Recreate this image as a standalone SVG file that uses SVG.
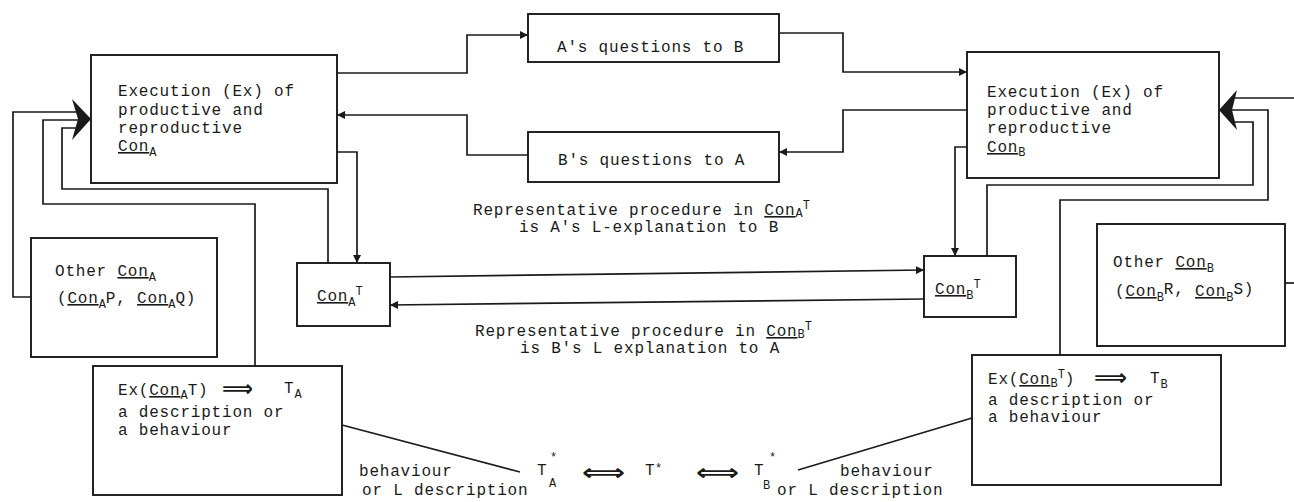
<svg xmlns="http://www.w3.org/2000/svg" width="1294" height="502" viewBox="0 0 1294 502">
<style>
.box{fill:none;stroke:#1a1a1a;stroke-width:1.9}
.ln{fill:none;stroke:#1a1a1a;stroke-width:1.7}
text{font-family:"Liberation Mono","DejaVu Sans Mono",monospace;font-size:16px;fill:#1a1a1a;letter-spacing:0.8px}
.u{text-decoration:underline}
.s{font-size:12px;letter-spacing:0}
.sym{font-family:"DejaVu Sans",sans-serif;font-weight:bold;letter-spacing:0;font-size:22px}
</style>
<defs>
<marker id="ah" viewBox="0 0 10 10" refX="10" refY="5" markerWidth="8" markerHeight="8" markerUnits="userSpaceOnUse" orient="auto">
<path d="M0,0 L10,5 L0,10 Z" fill="#1a1a1a"/>
</marker>
</defs>
<rect width="1294" height="502" fill="#ffffff"/>

<g id="connectors">
<path class="ln" d="M337,73 H467 V35 H528" marker-end="url(#ah)"/>
<path class="ln" d="M779,33 H843 V72 H967" marker-end="url(#ah)"/>
<path class="ln" d="M967,110 H843 V152 H779" marker-end="url(#ah)"/>
<path class="ln" d="M527,155 H467 V115 H337" marker-end="url(#ah)"/>
<path class="ln" d="M337,152 H357 V263" marker-end="url(#ah)"/>
<path class="ln" d="M328,263 V189 H62 V128 H78"/>
<path class="ln" d="M255,366 V204 H43 V120 H78"/>
<path class="ln" d="M31,297 H13 V112 H78"/>
<polygon points="91,119 72,99 78,119 72,140" fill="#1a1a1a"/>
<path class="ln" d="M390,277 L924,270" marker-end="url(#ah)"/>
<path class="ln" d="M924,299 L390,305" marker-end="url(#ah)"/>
<path class="ln" d="M967,147 H955 V256" marker-end="url(#ah)"/>
<path class="ln" d="M987,256 V185 H1253 V122 H1232"/>
<path class="ln" d="M1060,355 V200 H1268 V110 H1232"/>
<path class="ln" d="M1294,98 H1232"/>
<polygon points="1219,110 1237,90 1232,110 1237,130" fill="#1a1a1a"/>
<path class="ln" d="M1285,283 H1294"/>
<path class="ln" d="M342,425 L520,472"/>
<path class="ln" d="M798,470 L972,418"/>
</g>

<g id="execA">
<rect class="box" x="91" y="55" width="246" height="128"/>
<text x="118" y="96">Execution (Ex) of</text>
<text x="118" y="115">productive and</text>
<text x="118" y="133">reproductive</text>
<text x="118" y="151"><tspan class="u">Con</tspan><tspan class="s" dy="5">A</tspan></text>
</g>

<g id="execB">
<rect class="box" x="967" y="52" width="252" height="126"/>
<text x="987" y="97">Execution (Ex) of</text>
<text x="987" y="115">productive and</text>
<text x="987" y="133">reproductive</text>
<text x="987" y="152"><tspan class="u">Con</tspan><tspan class="s" dy="4">B</tspan></text>
</g>

<g id="qAB">
<rect class="box" x="528" y="14" width="251" height="48"/>
<text x="557" y="52">A's questions to B</text>
</g>

<g id="qBA">
<rect class="box" x="528" y="132" width="251" height="50"/>
<text x="558" y="165">B's questions to A</text>
</g>

<g id="labelA">
<text x="473" y="215">Representative procedure in <tspan class="u">Con</tspan><tspan class="s" dy="2">A</tspan><tspan class="s" dy="-8">T</tspan></text>
<text x="519" y="232">is A's L-explanation to B</text>
</g>

<g id="labelB">
<text x="475" y="336">Representative procedure in <tspan class="u">Con</tspan><tspan class="s" dy="2">B</tspan><tspan class="s" dy="-8">T</tspan></text>
<text x="520" y="353">is B's L explanation to A</text>
</g>

<g id="conAT">
<rect class="box" x="297" y="263" width="93" height="63"/>
<text x="317" y="301"><tspan class="u">Con</tspan><tspan class="s" dy="5">A</tspan><tspan class="s" dy="-11">T</tspan></text>
</g>

<g id="conBT">
<rect class="box" x="924" y="256" width="92" height="61"/>
<text x="935" y="294"><tspan class="u">Con</tspan><tspan class="s" dy="5">B</tspan><tspan class="s" dy="-11">T</tspan></text>
</g>

<g id="otherA">
<rect class="box" x="31" y="238" width="186" height="119"/>
<text x="55" y="276">Other <tspan class="u">Con</tspan><tspan class="s" dy="5">A</tspan></text>
<text x="57" y="303">(<tspan class="u">Con</tspan><tspan class="s" dy="5">A</tspan><tspan dy="-5">P, </tspan><tspan class="u">Con</tspan><tspan class="s" dy="5">A</tspan><tspan dy="-5">Q)</tspan></text>
</g>

<g id="otherB">
<rect class="box" x="1097" y="224" width="188" height="122"/>
<text x="1113" y="267">Other <tspan class="u">Con</tspan><tspan class="s" dy="5">B</tspan></text>
<text x="1115" y="296">(<tspan class="u">Con</tspan><tspan class="s" dy="5">B</tspan><tspan dy="-7">R, </tspan><tspan class="u" dy="2">Con</tspan><tspan class="s" dy="5">B</tspan><tspan dy="-7">S)</tspan></text>
</g>

<g id="exA">
<rect class="box" x="93" y="366" width="249" height="129"/>
<text x="118" y="395">Ex(<tspan class="u">Con</tspan><tspan class="s" dy="4">A</tspan><tspan dy="-4">T)</tspan></text>
<text class="sym" x="222" y="396" textLength="31" lengthAdjust="spacingAndGlyphs">⟹</text>
<text x="284" y="393">T<tspan class="s" dy="5">A</tspan></text>
<text x="118" y="417">a description or</text>
<text x="118" y="435">a behaviour</text>
</g>

<g id="exB">
<rect class="box" x="972" y="355" width="249" height="130"/>
<text x="988" y="384">Ex(<tspan class="u">Con</tspan><tspan class="s" dy="3">B</tspan><tspan class="s" dy="-9">T</tspan><tspan dy="6">)</tspan></text>
<text class="sym" x="1094" y="385" textLength="33" lengthAdjust="spacingAndGlyphs">⟹</text>
<text x="1150" y="383">T<tspan class="s" dy="5">B</tspan></text>
<text x="988" y="405">a description or</text>
<text x="988" y="422">a behaviour</text>
</g>

<g id="tstar">
<text x="359" y="476">behaviour</text>
<text x="362" y="495">or L description</text>
<text x="537" y="475" font-size="13">T</text>
<text class="s" x="550" y="461">*</text>
<text class="s" x="549" y="487">A</text>
<text class="sym" x="582" y="480" textLength="43" lengthAdjust="spacingAndGlyphs">⟺</text>
<text x="645" y="475" font-size="13">T</text>
<text class="s" x="655" y="472">*</text>
<text class="sym" x="696" y="480" textLength="43" lengthAdjust="spacingAndGlyphs">⟺</text>
<text x="754" y="475" font-size="13">T</text>
<text class="s" x="769" y="461">*</text>
<text class="s" x="763" y="489">B</text>
<text x="777" y="495">or L description</text>
<text x="840" y="476">behaviour</text>
</g>
</svg>
